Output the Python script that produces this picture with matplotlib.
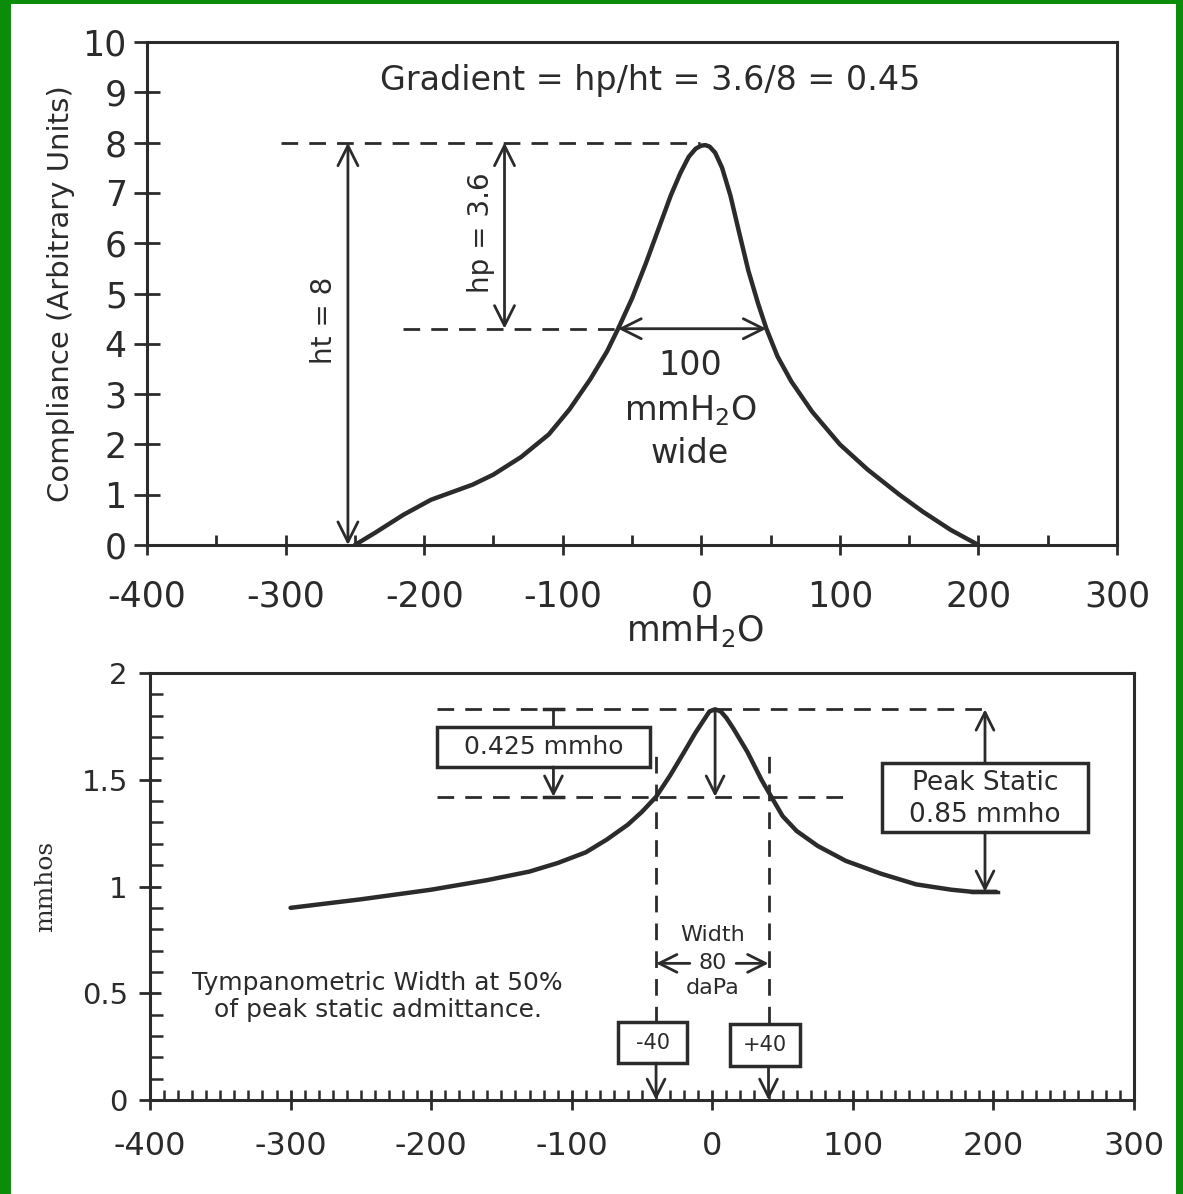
import matplotlib.pyplot as plt
from matplotlib.patches import Rectangle
from matplotlib.ticker import MultipleLocator

# ---- data: top panel (compliance vs pressure, mmH2O) ----
pressure_top = [-250, -235, -215, -195, -180, -165, -150, -130, -110, -95, -80, -68, -60,
                -50, -40, -30, -22, -15, -9, -4, 0, 3, 6, 10, 15, 21, 27, 34, 41, 47,
                55, 65, 80, 100, 120, 143, 160, 180, 200]
compliance_top = [0.0, 0.25, 0.6, 0.9, 1.05, 1.2, 1.4, 1.75, 2.2, 2.7, 3.3, 3.85, 4.3,
                  4.9, 5.6, 6.35, 6.95, 7.4, 7.72, 7.88, 7.94, 7.95, 7.92, 7.8, 7.5, 6.95, 6.25,
                  5.45, 4.8, 4.3, 3.75, 3.25, 2.65, 2.0, 1.5, 1.0, 0.66, 0.3, 0.0]

# ---- data: bottom panel (admittance vs pressure, daPa) ----
pressure_bot = [-300, -250, -200, -160, -130, -110, -90, -75, -60, -50, -40, -30, -20,
                -12, -6, -2, 2, 6, 10, 15, 25, 35, 42, 50, 60, 75, 95, 120, 145, 170, 185, 202]
admittance_bot = [0.90, 0.94, 0.985, 1.03, 1.07, 1.11, 1.16, 1.22, 1.29, 1.35, 1.42, 1.52, 1.63,
                  1.72, 1.78, 1.82, 1.83, 1.82, 1.79, 1.74, 1.63, 1.50, 1.42, 1.33, 1.26, 1.19,
                  1.12, 1.06, 1.01, 0.985, 0.975, 0.975]

x_ticks = [-400, -300, -200, -100, 0, 100, 200, 300]
y_ticks_top = list(range(0, 11))
y_ticks_bot = [0, 0.5, 1, 1.5, 2]
y_ticklabels_bot = ["0", "0.5", "1", "1.5", "2"]

# values used in the annotations
ht = 8
half_level = 4.3
peak_adm = 1.83
half_adm = 1.42
base_adm = 0.975

ink = "#2b2b2b"
green = "#0b8c0b"

fig = plt.figure(figsize=(11.83, 11.94), dpi=100, facecolor=green)
# white paper on the green slide background
fig.patches.append(Rectangle((11 / 1183, 0), (1176 - 11) / 1183, 1 - 4 / 1194,
                             transform=fig.transFigure, facecolor="white",
                             edgecolor="none", zorder=-10))

plt.rcParams["font.family"] = ["DejaVu Sans"]


def style_axes(ax):
    for side in ["left", "bottom", "top", "right"]:
        ax.spines[side].set_linewidth(2.2)
        ax.spines[side].set_color(ink)
    ax.set_facecolor("none")


# ================= TOP PANEL =================
ax1 = fig.add_axes([147 / 1183, 1 - 545 / 1194, 970 / 1183, 503 / 1194])
style_axes(ax1)
ax1.plot(pressure_top, compliance_top, color=ink, lw=3.2,
         solid_capstyle="round", solid_joinstyle="round")
ax1.set_xlim(-400, 300)
ax1.set_ylim(0, 10)
ax1.set_xticks(x_ticks)
ax1.set_xticklabels([str(t) for t in x_ticks])
ax1.set_yticks(y_ticks_top)
ax1.xaxis.set_minor_locator(MultipleLocator(50))
ax1.tick_params(axis="x", which="major", direction="inout", length=15, width=2,
                color=ink, labelsize=25, labelcolor=ink, pad=17)
ax1.tick_params(axis="x", which="minor", direction="in", length=7, width=2, color=ink)
ax1.tick_params(axis="y", which="major", direction="inout", length=19, width=2,
                color=ink, labelsize=25, labelcolor=ink, pad=5)
ax1.set_xlabel("mmH$_2$O", fontsize=25, color=ink)
ax1.xaxis.set_label_coords(0.565, -0.135)
ax1.set_ylabel("Compliance (Arbitrary Units)", fontsize=21, color=ink)
ax1.yaxis.set_label_coords(-0.074, 0.5)

dash = (0, (6, 4))
# dashed reference lines
ax1.plot([-303, -1], [ht, ht], color=ink, lw=2, linestyle=dash)
ax1.plot([-215, -60], [half_level, half_level], color=ink, lw=2, linestyle=dash)

arrow = dict(arrowstyle="<->", color=ink, lw=2, shrinkA=0, shrinkB=0, mutation_scale=36)
ax1.annotate("", xy=(-255, 0), xytext=(-255, ht), arrowprops=arrow)
ax1.annotate("", xy=(-142, half_level), xytext=(-142, ht), arrowprops=arrow)
ax1.annotate("", xy=(-60, half_level), xytext=(47, half_level), arrowprops=arrow)

ax1.text(-272, 4.47, "ht = 8", rotation=90, fontsize=20, color=ink, ha="center", va="center")
ax1.text(-159, 6.2, "hp = 3.6", rotation=90, fontsize=20, color=ink, ha="center", va="center")
ax1.text(-37, 9.24, "Gradient = hp/ht = 3.6/8 = 0.45", fontsize=24, color=ink,
         ha="center", va="center")
ax1.text(-8, 3.57, "100", fontsize=24, color=ink, ha="center", va="center")
ax1.text(-8, 2.68, "mmH$_2$O", fontsize=24, color=ink, ha="center", va="center")
ax1.text(-8, 1.82, "wide", fontsize=24, color=ink, ha="center", va="center")

# ================= BOTTOM PANEL =================
ax2 = fig.add_axes([150 / 1183, 1 - 1100 / 1194, 984 / 1183, 427 / 1194])
style_axes(ax2)
ax2.plot(pressure_bot, admittance_bot, color=ink, lw=3.2,
         solid_capstyle="round", solid_joinstyle="round")
ax2.set_xlim(-400, 300)
ax2.set_ylim(0, 2)
ax2.set_xticks(x_ticks)
ax2.set_xticklabels([str(t) for t in x_ticks])
ax2.set_yticks(y_ticks_bot)
ax2.set_yticklabels(y_ticklabels_bot)
ax2.xaxis.set_minor_locator(MultipleLocator(10))
ax2.yaxis.set_minor_locator(MultipleLocator(0.1))
ax2.tick_params(axis="x", which="major", direction="inout", length=15, width=2,
                color=ink, labelsize=23, labelcolor=ink, pad=15)
ax2.tick_params(axis="x", which="minor", direction="in", length=7, width=1.8, color=ink)
ax2.tick_params(axis="y", which="major", direction="inout", length=16, width=2,
                color=ink, labelsize=21, labelcolor=ink, pad=8)
ax2.tick_params(axis="y", which="minor", direction="in", length=9, width=1.8, color=ink)
ax2.set_ylabel("mmhos", fontsize=18, color=ink, family="DejaVu Serif")
ax2.yaxis.set_label_coords(-0.094, 0.5)

# dashed reference levels
ax2.plot([-196, 194], [peak_adm, peak_adm], color=ink, lw=2, linestyle=dash)
ax2.plot([-196, 98], [half_adm, half_adm], color=ink, lw=2, linestyle=dash)
ax2.plot([-40, -40], [0.36, 1.66], color=ink, lw=2, linestyle=dash)
ax2.plot([40, 40], [0.36, 1.66], color=ink, lw=2, linestyle=dash)

down = dict(arrowstyle="->", color=ink, lw=2, shrinkA=0, shrinkB=0, mutation_scale=32)

# 0.425 mmho box with its arrows
ax2.add_patch(Rectangle((-196, 1.56), 152, 0.187, facecolor="white", edgecolor=ink, lw=2.5))
ax2.text(-120, 1.653, "0.425 mmho", fontsize=18, color=ink, ha="center", va="center")
ax2.plot([-113, -113], [peak_adm, 1.747], color=ink, lw=2)
ax2.plot([-120, -106], [peak_adm, peak_adm], color=ink, lw=2.5)
ax2.annotate("", xy=(-113, half_adm), xytext=(-113, 1.56), arrowprops=down)
ax2.plot([-120, -106], [half_adm, half_adm], color=ink, lw=2.5)

# arrow from peak down to half level
ax2.annotate("", xy=(2, half_adm), xytext=(2, peak_adm), arrowprops=down)

# peak static box with arrows
ax2.add_patch(Rectangle((120.5, 1.255), 146.5, 0.323, facecolor="white", edgecolor=ink, lw=2.5))
ax2.text(194, 1.485, "Peak Static", fontsize=19, color=ink, ha="center", va="center")
ax2.text(194, 1.335, "0.85 mmho", fontsize=19, color=ink, ha="center", va="center")
ax2.annotate("", xy=(194, peak_adm), xytext=(194, 1.578), arrowprops=down)
ax2.annotate("", xy=(194, base_adm), xytext=(194, 1.255), arrowprops=down)
ax2.plot([185, 203], [base_adm, base_adm], color=ink, lw=2.5)

# width annotation
ax2.text(0.5, 0.773, "Width", fontsize=16, color=ink, ha="center", va="center")
ax2.text(0.5, 0.64, "80", fontsize=16, color=ink, ha="center", va="center")
ax2.text(0.5, 0.525, "daPa", fontsize=16, color=ink, ha="center", va="center")
ax2.annotate("", xy=(-40, 0.64), xytext=(-16, 0.64), arrowprops=down)
ax2.annotate("", xy=(40, 0.64), xytext=(17, 0.64), arrowprops=down)

# -40 / +40 boxes and arrows to the axis
ax2.add_patch(Rectangle((-67, 0.173), 49, 0.19, facecolor="white", edgecolor=ink, lw=2.5))
ax2.text(-42.5, 0.268, "-40", fontsize=15, color=ink, ha="center", va="center")
ax2.add_patch(Rectangle((12.5, 0.158), 50, 0.198, facecolor="white", edgecolor=ink, lw=2.5))
ax2.text(37.5, 0.257, "+40", fontsize=15, color=ink, ha="center", va="center")
ax2.annotate("", xy=(-40, 0), xytext=(-40, 0.173), arrowprops=down)
ax2.annotate("", xy=(40, 0), xytext=(40, 0.158), arrowprops=down)

ax2.text(-238, 0.485, "Tympanometric Width at 50%\nof peak static admittance.",
         fontsize=18, color=ink, ha="center", va="center", linespacing=1.15)

plt.savefig("out.png", dpi=100, facecolor=fig.get_facecolor())
